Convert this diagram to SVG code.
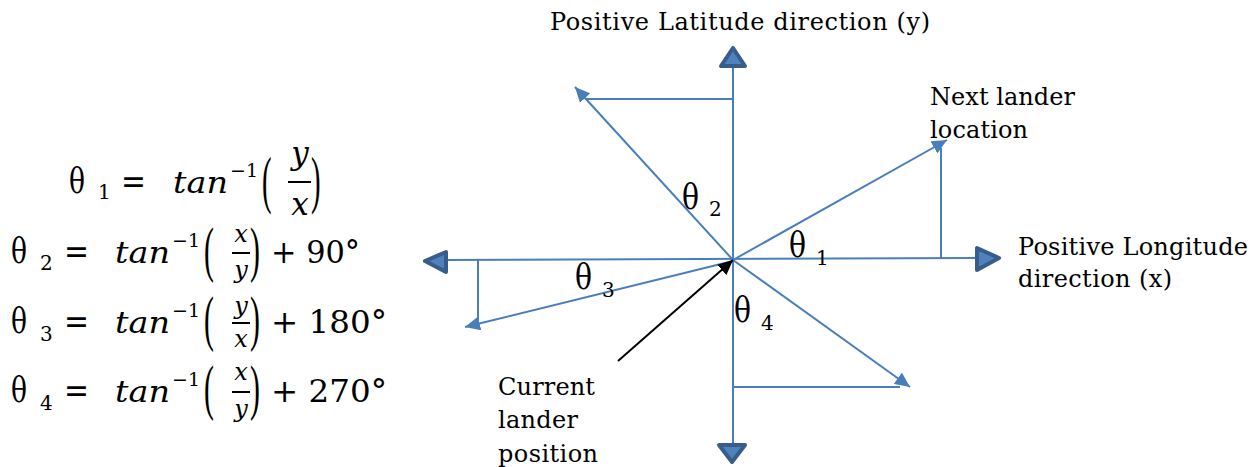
<svg xmlns="http://www.w3.org/2000/svg" width="1260" height="467" viewBox="0 0 1260 467">
<style>
.lbl{font-family:"DejaVu Serif","Liberation Serif",serif;font-size:24px;fill:#000}
.th{font-family:"DejaVu Serif",serif;font-size:35px;fill:#000}
.sub{font-family:"DejaVu Serif",serif;font-size:20px;fill:#000}
.m{font-family:"DejaVu Serif",serif;font-size:32px;fill:#000}
.eq{font-family:"DejaVu Serif",serif;font-size:34px;fill:#000}
.mi{font-family:"DejaVu Serif",serif;font-style:italic;font-size:30px;fill:#000}
.fr{font-family:"DejaVu Serif",serif;font-style:italic;font-size:24px;fill:#000;text-anchor:middle}
.sup{font-family:"DejaVu Serif",serif;font-size:19px;fill:#000}
.par{font-family:"Liberation Serif",serif;fill:#000}
.ln{stroke:#4A7EBB;stroke-width:2;fill:none}
.big{fill:#4F81BD;stroke:#385D8A;stroke-width:4;stroke-linejoin:round}
.bar{stroke:#000;stroke-width:2}
</style>
<defs>
<marker id="ah" markerUnits="userSpaceOnUse" markerWidth="16" markerHeight="14" refX="15" refY="7" orient="auto">
<path d="M0,0 L15,7 L0,14 z" fill="#4A7EBB"/>
</marker>
<marker id="ahk" markerUnits="userSpaceOnUse" markerWidth="16" markerHeight="14" refX="15" refY="7" orient="auto">
<path d="M0,0 L15,7 L0,14 z" fill="#000"/>
</marker>
</defs>

<g id="formulas">
<g id="f1">
<text class="th" x="69" y="193" textLength="16" lengthAdjust="spacingAndGlyphs">θ</text>
<text class="sub" x="98" y="199">1</text>
<text class="eq" x="121" y="193" textLength="25" lengthAdjust="spacingAndGlyphs">=</text>
<text class="mi" x="173" y="193" textLength="55" lengthAdjust="spacingAndGlyphs">tan</text>
<text class="sup" x="230" y="177" textLength="28">−1</text>
<text class="par" font-size="64" transform="translate(262,201) scale(0.45,1)">(</text>
<text class="fr" x="300" y="164" style="font-size:31px">y</text>
<line class="bar" x1="288" y1="182" x2="311" y2="182"/>
<text class="fr" x="300" y="215" style="font-size:31px">x</text>
<text class="par" font-size="64" transform="translate(311,201) scale(0.45,1)">)</text>
</g>
<g id="f2">
<text class="th" x="11" y="263" textLength="16" lengthAdjust="spacingAndGlyphs">θ</text>
<text class="sub" x="40" y="270">2</text>
<text class="eq" x="64" y="263" textLength="25" lengthAdjust="spacingAndGlyphs">=</text>
<text class="mi" x="115" y="263" textLength="55" lengthAdjust="spacingAndGlyphs">tan</text>
<text class="sup" x="172" y="247" textLength="28">−1</text>
<text class="par" font-size="62" transform="translate(204,270) scale(0.48,1)">(</text>
<text class="fr" x="241" y="242">x</text>
<line class="bar" x1="232" y1="253" x2="250" y2="253"/>
<text class="fr" x="241" y="278">y</text>
<text class="par" font-size="62" transform="translate(250,270) scale(0.48,1)">)</text>
<text class="m" x="271" y="263" textLength="89" lengthAdjust="spacingAndGlyphs">+ 90°</text>
</g>
<g id="f3">
<text class="th" x="11" y="333" textLength="16" lengthAdjust="spacingAndGlyphs">θ</text>
<text class="sub" x="40" y="341">3</text>
<text class="eq" x="64" y="333" textLength="25" lengthAdjust="spacingAndGlyphs">=</text>
<text class="mi" x="115" y="333" textLength="55" lengthAdjust="spacingAndGlyphs">tan</text>
<text class="sup" x="172" y="317" textLength="28">−1</text>
<text class="par" font-size="62" transform="translate(204,339) scale(0.48,1)">(</text>
<text class="fr" x="241" y="314">y</text>
<line class="bar" x1="232" y1="323" x2="250" y2="323"/>
<text class="fr" x="241" y="347">x</text>
<text class="par" font-size="62" transform="translate(250,339) scale(0.48,1)">)</text>
<text class="m" x="271" y="333" textLength="116" lengthAdjust="spacingAndGlyphs">+ 180°</text>
</g>
<g id="f4">
<text class="th" x="11" y="402" textLength="16" lengthAdjust="spacingAndGlyphs">θ</text>
<text class="sub" x="40" y="410">4</text>
<text class="eq" x="64" y="402" textLength="25" lengthAdjust="spacingAndGlyphs">=</text>
<text class="mi" x="115" y="402" textLength="55" lengthAdjust="spacingAndGlyphs">tan</text>
<text class="sup" x="172" y="386" textLength="28">−1</text>
<text class="par" font-size="62" transform="translate(204,408) scale(0.48,1)">(</text>
<text class="fr" x="241" y="380">x</text>
<line class="bar" x1="232" y1="392" x2="250" y2="392"/>
<text class="fr" x="241" y="417">y</text>
<text class="par" font-size="62" transform="translate(250,408) scale(0.48,1)">)</text>
<text class="m" x="271" y="402" textLength="116" lengthAdjust="spacingAndGlyphs">+ 270°</text>
</g>
</g>

<g id="connectors">
<line class="ln" x1="733" y1="66" x2="733" y2="445"/>
<line class="ln" x1="446" y1="260" x2="977" y2="258"/>
<line class="ln" x1="733" y1="260" x2="947" y2="140" marker-end="url(#ah)"/>
<line class="ln" x1="941" y1="258" x2="941" y2="148"/>
<line class="ln" x1="733" y1="260" x2="575" y2="87" marker-end="url(#ah)"/>
<line class="ln" x1="733" y1="99" x2="585" y2="99"/>
<line class="ln" x1="733" y1="261" x2="465" y2="327" marker-end="url(#ah)"/>
<line class="ln" x1="478" y1="260" x2="478" y2="320"/>
<line class="ln" x1="733" y1="260" x2="910" y2="387" marker-end="url(#ah)"/>
<line class="ln" x1="733" y1="387" x2="900" y2="387"/>
<line x1="618" y1="361" x2="733" y2="260" stroke="#000" stroke-width="2" marker-end="url(#ahk)"/>
<polygon class="big" points="733,48 721,66 745,66"/>
<polygon class="big" points="732,462 719,445 745,445"/>
<polygon class="big" points="425,261 446,252 446,272"/>
<polygon class="big" points="999,258 977,248 977,270"/>
</g>

<g id="angle-labels">
<text class="th" x="682" y="209" textLength="17" lengthAdjust="spacingAndGlyphs">θ</text>
<text class="sub" x="709" y="216">2</text>
<text class="th" x="789" y="257" textLength="17" lengthAdjust="spacingAndGlyphs">θ</text>
<text class="sub" x="816" y="265">1</text>
<text class="th" x="575" y="289" textLength="17" lengthAdjust="spacingAndGlyphs">θ</text>
<text class="sub" x="602" y="297">3</text>
<text class="th" x="734" y="322" textLength="17" lengthAdjust="spacingAndGlyphs">θ</text>
<text class="sub" x="761" y="330">4</text>
</g>

<g id="lat-label"><text class="lbl" x="550" y="30" textLength="380">Positive Latitude direction (y)</text></g>
<g id="next-label">
<text class="lbl" x="930" y="105" textLength="145">Next lander</text>
<text class="lbl" x="930" y="138" textLength="98">location</text>
</g>
<g id="lon-label">
<text class="lbl" x="1018" y="255" textLength="230">Positive Longitude</text>
<text class="lbl" x="1018" y="287" textLength="154">direction (x)</text>
</g>
<g id="current-label">
<text class="lbl" x="498" y="395" textLength="97">Current</text>
<text class="lbl" x="498" y="428" textLength="80">lander</text>
<text class="lbl" x="498" y="462" textLength="100">position</text>
</g>
</svg>
